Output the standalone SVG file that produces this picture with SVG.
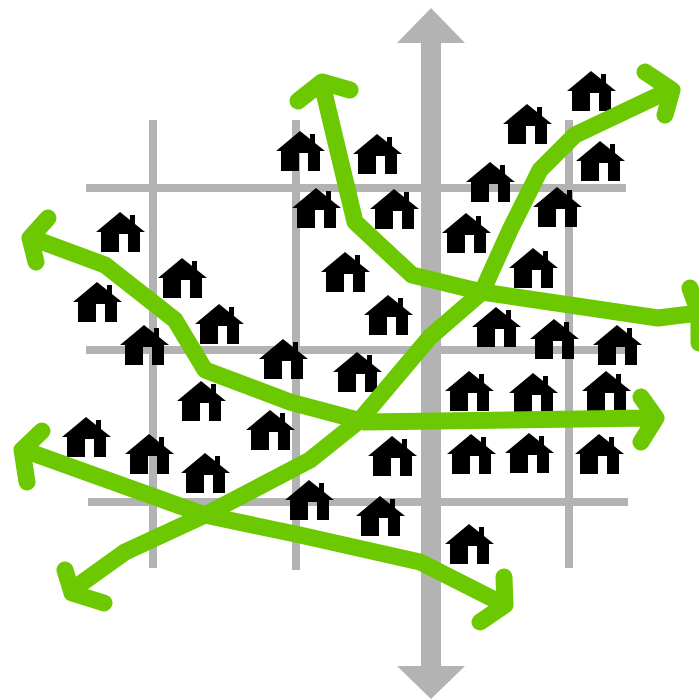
<svg xmlns="http://www.w3.org/2000/svg" width="699" height="699" viewBox="0 0 699 699">
<style>
.g{stroke:#b3b3b3;stroke-width:8;fill:none}
.a{stroke:#6cc800;stroke-width:17;fill:none;stroke-linecap:round;stroke-linejoin:round}
.h{fill:#000}
</style>
<defs>
<path id="house" fill-rule="evenodd" d="M0 0L10 8V3H15V12L25 20H20V40H8V22H-1V40H-19V20H-24Z"/>
</defs>
<rect width="699" height="699" fill="#fff"/>
<g id="grid">
<path class="g" d="M86 188H626M86 350H626M88 502H628M153 120V568M296 120V570M569 120V568"/>
</g>
<g id="axis">
<path fill="#b3b3b3" d="M431 8L465 43H441V666H465L431 699L397 666H421V43H397Z"/>
</g>
<g id="houses" class="h">
<use id="house1" href="#house" x="300" y="131"/>
<use id="house2" href="#house" x="377" y="134"/>
<use id="house3" href="#house" x="316" y="188"/>
<use id="house4" href="#house" x="394" y="189"/>
<use id="house5" href="#house" x="490" y="162"/>
<use id="house6" href="#house" x="527" y="104"/>
<use id="house7" href="#house" x="591" y="71"/>
<use id="house8" href="#house" x="600" y="141"/>
<use id="house9" href="#house" x="557" y="187"/>
<use id="house10" href="#house" x="466" y="213"/>
<use id="house11" href="#house" x="533" y="248"/>
<use id="house12" href="#house" x="345" y="252"/>
<use id="house13" href="#house" x="388" y="295"/>
<use id="house14" href="#house" x="496" y="307"/>
<use id="house15" href="#house" x="554" y="319"/>
<use id="house16" href="#house" x="617" y="325"/>
<use id="house17" href="#house" x="120" y="212"/>
<use id="house18" href="#house" x="182" y="258"/>
<use id="house19" href="#house" x="97" y="282"/>
<use id="house20" href="#house" x="219" y="304"/>
<use id="house21" href="#house" x="144" y="325"/>
<use id="house22" href="#house" x="283" y="339"/>
<use id="house23" href="#house" x="357" y="352"/>
<use id="house24" href="#house" x="469" y="371"/>
<use id="house25" href="#house" x="533" y="373"/>
<use id="house26" href="#house" x="606" y="371"/>
<use id="house27" href="#house" x="201" y="381"/>
<use id="house28" href="#house" x="270" y="410"/>
<use id="house29" href="#house" x="86" y="417"/>
<use id="house30" href="#house" x="149" y="434"/>
<use id="house31" href="#house" x="205" y="453"/>
<use id="house32" href="#house" x="392" y="436"/>
<use id="house33" href="#house" x="471" y="434"/>
<use id="house34" href="#house" x="529" y="433"/>
<use id="house35" href="#house" x="599" y="434"/>
<use id="house36" href="#house" x="309" y="480"/>
<use id="house37" href="#house" x="380" y="496"/>
<use id="house38" href="#house" x="469" y="524"/>
</g>
<g id="connectors">
<path class="a" d="M322 84L355 222L412 275L482 292L658 318L699 313M298 101L322 82L350 90M690 288L699 313L699 343"/>
<path class="a" d="M72 590L125 552L205 515L310 460L360 420L430 337L482 292L510 230L540 170L575 135L670 90M65 570L72 593L104 603M645 72L672 90L665 115"/>
<path class="a" d="M32 238L105 265L175 320L205 370L290 402L365 422L650 418M48 218L30 238L36 262M641 397L656 418L641 442"/>
<path class="a" d="M24 450L205 515L300 535L420 562L505 605M42 431L22 450L27 482M504 577L505 605L480 622"/>
</g>
</svg>
